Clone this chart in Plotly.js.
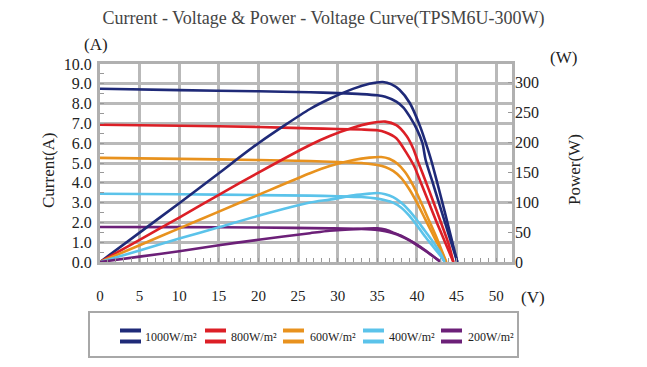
<!DOCTYPE html>
<html>
<head>
<meta charset="utf-8">
<script src="https://cdn.plot.ly/plotly-3.0.1.min.js"></script>
<style>html,body{margin:0;padding:0;background:#fff;}#chart{width:647px;height:367px;}</style>
</head>
<body>
<div id="chart"></div>
<script>
// ---- data ----
const seriesNames = ["1000W/m²", "800W/m²", "600W/m²", "400W/m²", "200W/m²"];
const seriesColors = ["#1f2a78", "#dc1f26", "#e8921e", "#5bc3ea", "#6c2078"];

// Current - Voltage (V, A)
const v1000I = [0, 10, 20, 26.5, 30, 33, 35, 36, 37.4, 38.3, 39.1, 40, 40.7, 41.1, 42, 43, 44, 45.1];
const i1000  = [8.75, 8.68, 8.62, 8.57, 8.53, 8.48, 8.42, 8.35, 8.1, 7.8, 7.34, 6.7, 6.0, 5.15, 4.0, 2.7, 1.4, 0];
const v800I  = [0, 10, 20, 26.5, 30, 33, 35, 36, 37.4, 38.7, 39.7, 40.5, 41.5, 42.5, 43.5, 44.6];
const i800   = [6.93, 6.88, 6.82, 6.75, 6.72, 6.69, 6.65, 6.55, 6.25, 5.5, 4.8, 4.0, 3.0, 2.0, 1.05, 0];
const v600I  = [0, 10, 20, 26.5, 30, 33, 35, 36, 37, 38, 39, 40, 41, 42, 43, 43.7];
const i600   = [5.26, 5.21, 5.15, 5.1, 5.05, 5.0, 4.9, 4.8, 4.6, 4.25, 3.7, 3.0, 2.2, 1.4, 0.6, 0];
const v400I  = [0, 10, 20, 26.5, 30, 33, 35, 36, 37, 38, 39, 40, 41, 42, 43, 43.5];
const i400   = [3.45, 3.42, 3.38, 3.35, 3.32, 3.28, 3.2, 3.12, 3.0, 2.75, 2.35, 1.85, 1.3, 0.8, 0.3, 0];
const v200I  = [0, 10, 20, 29, 33, 35, 36, 37, 38, 39, 40, 41, 42, 43];
const i200   = [1.77, 1.76, 1.74, 1.7, 1.67, 1.62, 1.55, 1.45, 1.3, 1.1, 0.85, 0.58, 0.3, 0];

// Power - Voltage (V, W)
const v1000P = [0, 5, 10, 15, 20, 26.5, 29, 32, 34, 35.7, 36.8, 37.8, 39.1, 40.4, 41.4, 41.9, 43, 44, 45.1];
const p1000  = [0, 49, 98, 148, 198, 255, 272, 289, 297, 300, 296, 287, 265, 226, 187, 165, 110, 58, 0];
const v800P  = [0, 5, 10, 15, 20, 26.5, 29, 32, 34, 36, 37.4, 38.7, 39.5, 40.2, 41, 42, 43, 44, 44.6];
const p800   = [0, 37, 74, 112, 149, 195, 210, 224, 231, 234, 228, 210, 190, 165, 138, 103, 67, 30, 0];
const v600P  = [0, 5, 10, 15, 20, 26.5, 29, 32, 34, 35.5, 36.5, 37.5, 38.5, 39.5, 40.5, 41.5, 42.5, 43.7];
const p600   = [0, 28, 56, 84, 112, 148, 160, 170, 174, 175, 172, 164, 150, 128, 100, 70, 40, 0];
const v400P  = [0, 5, 10, 15, 20, 26.5, 29, 32, 34, 35, 36, 37, 38, 39, 40, 41, 42, 43, 43.5];
const p400   = [0, 19, 39, 58, 77, 99, 104, 111, 114, 115, 113, 108, 99, 86, 70, 52, 34, 14, 0];
const v200P  = [0, 5, 10, 15, 20, 26.5, 29, 33, 35, 36, 37, 38, 39, 40, 41, 42, 43];
const p200   = [0, 9, 18, 28, 37, 48, 52, 55.5, 56, 54, 49, 44, 37, 29, 20, 10, 0];

const xTicks = [0, 5, 10, 15, 20, 25, 30, 35, 40, 45, 50];
const yTicks = [0, 1, 2, 3, 4, 5, 6, 7, 8, 9, 10];
const y2Ticks = [0, 50, 100, 150, 200, 250, 300];

// ---- build ----
const ivV = [v1000I, v800I, v600I, v400I, v200I];
const ivI = [i1000, i800, i600, i400, i200];
const pvV = [v1000P, v800P, v600P, v400P, v200P];
const pvP = [p1000, p800, p600, p400, p200];

const FONT = "Liberation Serif, Times New Roman, serif";
const traces = [];
for (let k = 0; k < seriesNames.length; k++) {
  traces.push({x: ivV[k], y: ivI[k], type: "scatter", mode: "lines", name: seriesNames[k],
    line: {color: seriesColors[k], width: 2.6, shape: "spline", smoothing: 0.7}, yaxis: "y", showlegend: false});
  traces.push({x: pvV[k], y: pvP[k], type: "scatter", mode: "lines", name: seriesNames[k],
    line: {color: seriesColors[k], width: 2.6, shape: "spline", smoothing: 0.7}, yaxis: "y2", showlegend: false});
}

// plot area in pixels: x 100..512, y 64..262
const L = 100, R = 512, T = 64, B = 262;
const px = x => (x - L) / (R - L);
const py = y => (B - y) / (B - T);

const annotations = [
  {text: "(A)", x: px(96), y: py(44)},
  {text: "(W)", x: px(563), y: py(57)},
  {text: "(V)", x: px(533), y: py(297)},
  {text: "Current(A)", x: px(48), y: py(170), textangle: -90},
  {text: "Power(W)", x: px(574), y: py(170), textangle: -90}
].map(a => Object.assign({xref: "paper", yref: "paper", showarrow: false, xanchor: "center", yanchor: "middle",
  font: {family: FONT, size: 17, color: "#222"}}, a));

const shapes = [
  {type: "rect", xref: "paper", yref: "paper", x0: px(89), x1: px(518), y0: py(312), y1: py(357),
   line: {color: "#a8a8a8", width: 2}, fillcolor: "rgba(0,0,0,0)"}
];
const iconX = [120, 205, 283, 363, 441];
const textX = [143, 229, 308, 387, 466];
for (let k = 0; k < seriesNames.length; k++) {
  [[328.5, 332.5], [339.5, 343.5]].forEach(([a, b]) => {
    shapes.push({type: "rect", xref: "paper", yref: "paper", x0: px(iconX[k]), x1: px(iconX[k] + 21),
      y0: py(b), y1: py(a), line: {width: 0}, fillcolor: seriesColors[k]});
  });
  annotations.push({text: seriesNames[k], xref: "paper", yref: "paper", x: px(textX[k]), y: py(336.5),
    xanchor: "left", yanchor: "middle", showarrow: false, font: {family: FONT, size: 12, color: "#222"}});
}

const layout = {
  width: 647, height: 367,
  margin: {l: L, r: 647 - R, t: T, b: 367 - B},
  paper_bgcolor: "#fff", plot_bgcolor: "#fff",
  font: {family: FONT, color: "#222"},
  title: {text: "Current - Voltage & Power - Voltage Curve(TPSM6U-300W)", x: 0.5, xref: "container",
    y: 1 - 18 / 367, yref: "container", xanchor: "center", yanchor: "middle",
    font: {family: FONT, size: 18, color: "#444"}},
  xaxis: {range: [0, 52], tickvals: xTicks, ticktext: xTicks.map(String), showgrid: true, gridcolor: "#b9b9b9", gridwidth: 3,
    zeroline: false, showline: true, linecolor: "#b0b0b0", linewidth: 3, mirror: true,
    ticks: "inside", ticklen: 4, tickcolor: "#999", ticklabelstandoff: 18,
    minor: {dtick: 1, ticks: "inside", ticklen: 4, tickcolor: "#999", showgrid: false},
    tickfont: {family: FONT, size: 15, color: "#222"}},
  yaxis: {range: [0, 10], tickvals: yTicks, tickformat: ".1f", showgrid: true, gridcolor: "#b9b9b9", gridwidth: 3,
    zeroline: false, showline: true, linecolor: "#b0b0b0", linewidth: 3, mirror: true,
    ticks: "inside", ticklen: 4, tickcolor: "#999", ticklabelstandoff: 2,
    minor: {dtick: 0.5, ticks: "inside", ticklen: 4, tickcolor: "#999", showgrid: false},
    tickfont: {family: FONT, size: 16, color: "#222"}},
  yaxis2: {range: [0, 330], tickvals: y2Ticks, overlaying: "y", side: "right", showgrid: false, zeroline: false,
    showline: false, ticks: "inside", ticklen: 4, tickcolor: "#999", ticklabelstandoff: 2,
    tickfont: {family: FONT, size: 16, color: "#222"}},
  showlegend: false,
  annotations: annotations,
  shapes: shapes
};

Plotly.newPlot("chart", traces, layout, {staticPlot: true, displayModeBar: false});
</script>
</body>
</html>
